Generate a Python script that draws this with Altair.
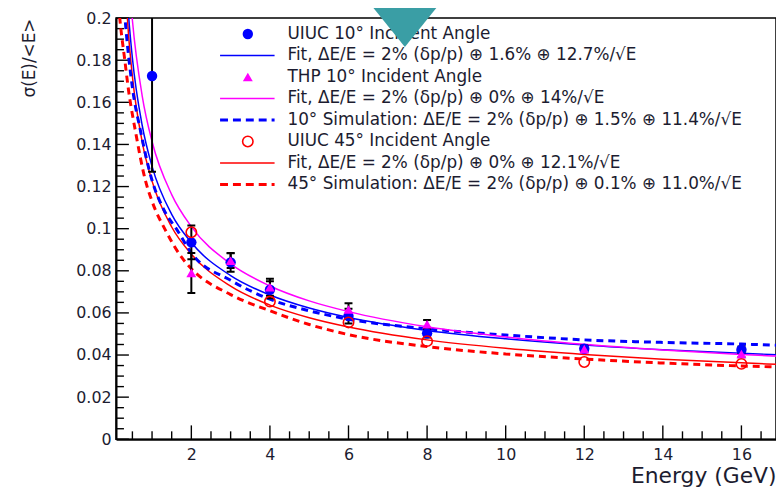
import altair as alt
import pandas as pd

# ---------------- measured data points ----------------
uiuc10_E = [1, 2, 3, 4, 6, 8, 12, 16]
uiuc10_v = [0.1725, 0.0935, 0.0840, 0.0710, 0.0585, 0.0503, 0.0430, 0.0425]
uiuc10_err = [0.0455, 0.0080, 0.0045, 0.0040, 0.0035, 0.0020, 0.0015, 0.0015]

thp10_E = [2, 3, 4, 6, 8, 12, 16]
thp10_v = [0.0790, 0.0848, 0.0722, 0.0616, 0.0546, 0.0428, 0.0405]
thp10_err = [0.0095, 0.0035, 0.0040, 0.0030, 0.0020, 0.0015, 0.0015]

uiuc45_E = [2, 4, 6, 8, 12, 16]
uiuc45_v = [0.0983, 0.0654, 0.0555, 0.0466, 0.0367, 0.0358]

# ---------------- curves ----------------
fit_uiuc10_E = [0.3, 0.4, 0.5, 0.75, 1, 1.5, 2, 3, 4, 5, 6, 8, 10, 12, 14, 16, 17]
fit_uiuc10_v = [0.234, 0.202, 0.181, 0.149, 0.1296, 0.1068, 0.0934, 0.0777, 0.0685,
                0.0623, 0.0578, 0.0517, 0.0477, 0.0447, 0.0425, 0.0408, 0.0401]

fit_thp10_E = [0.45, 0.5, 0.75, 1, 1.5, 2, 3, 4, 5, 6, 8, 10, 12, 14, 16, 17]
fit_thp10_v = [0.210, 0.199, 0.163, 0.1414, 0.1162, 0.101, 0.0833, 0.0728, 0.0657,
               0.0606, 0.0534, 0.0486, 0.0451, 0.0424, 0.0403, 0.0394]

sim10_E = [0.25, 0.33, 0.5, 0.7, 1, 1.3, 1.64, 2, 3, 4, 5, 6, 8, 10, 12, 14, 16, 17]
sim10_v = [0.215, 0.196, 0.167, 0.147, 0.123, 0.109, 0.0993, 0.0885, 0.0755, 0.0665,
           0.0610, 0.0570, 0.0525, 0.0495, 0.0472, 0.0460, 0.0452, 0.0446]

fit_uiuc45_E = [0.33, 0.4, 0.5, 0.75, 1, 1.5, 2, 3, 4, 5, 6, 8, 10, 12, 14, 16, 17]
fit_uiuc45_v = [0.2115, 0.1924, 0.1723, 0.1411, 0.1226, 0.1008, 0.0879, 0.0727, 0.0637,
                0.0577, 0.0533, 0.0472, 0.0432, 0.0403, 0.0380, 0.0363, 0.0355]

sim45_E = [0.12, 0.2, 0.3, 0.4, 0.58, 0.83, 1, 1.34, 1.77, 2, 3, 4, 5, 6, 8, 10, 12, 14, 16, 17]
sim45_v = [0.212, 0.196, 0.181, 0.166, 0.146, 0.123, 0.113, 0.0993, 0.086, 0.081, 0.0687,
           0.0610, 0.0545, 0.0497, 0.0440, 0.0405, 0.0381, 0.0362, 0.0348, 0.0343]

# ---------------- axis ticks ----------------
y_major = [0, 0.02, 0.04, 0.06, 0.08, 0.1, 0.12, 0.14, 0.16, 0.18, 0.2]
y_minor = [round(0.005 * i, 3) for i in range(41) if i % 4 != 0]
x_major = [2, 4, 6, 8, 10, 12, 14, 16]
x_minor = [0.5 * i for i in range(1, 34) if i % 4 != 0]

legend_labels = [
    "UIUC 10° Incident Angle",
    "Fit, ΔE/E = 2% (δp/p) ⊕ 1.6% ⊕ 12.7%/√E",
    "THP 10° Incident Angle",
    "Fit, ΔE/E = 2% (δp/p) ⊕ 0% ⊕ 14%/√E",
    "10° Simulation: ΔE/E = 2% (δp/p) ⊕ 1.5% ⊕ 11.4%/√E",
    "UIUC 45° Incident Angle",
    "Fit, ΔE/E = 2% (δp/p) ⊕ 0% ⊕ 12.1%/√E",
    "45° Simulation: ΔE/E = 2% (δp/p) ⊕ 0.1% ⊕ 11.0%/√E",
]

# ---------------- layout ----------------
W, H = 666, 425
FONT = "DejaVu Sans"
TXT = "#1c1c30"
XS = alt.Scale(domain=[0.083, 16.88], nice=False, zero=False)
YS = alt.Scale(domain=[0, 0.2], nice=False, zero=False)

BLUE, MAG, RED = "#0000ff", "#ff00ff", "#ff0000"

Y_AXIS = alt.Axis(values=y_major, format="~g", ticks=False, grid=False,
                  domainColor="black", domainWidth=2,
                  labelFont=FONT, labelFontSize=16, labelColor=TXT, labelPadding=5,
                  title="σ(E)/<E>", titleFont=FONT, titleFontSize=17,
                  titleFontWeight="normal", titleColor=TXT, titleAngle=270,
                  titleX=-87, titleY=0, titleAlign="right", titleBaseline="middle")
X_AXIS = alt.Axis(values=x_major, ticks=False, grid=False,
                  domainColor="black", domainWidth=2,
                  labelFont=FONT, labelFontSize=16, labelColor=TXT, labelPadding=7,
                  title="Energy (GeV)", titleFont=FONT, titleFontSize=22,
                  titleFontWeight="normal", titleColor=TXT,
                  titleX=W, titleY=44, titleAlign="right", titleBaseline="alphabetic")


def xq(field="E"):
    return alt.X(f"{field}:Q", scale=XS, axis=X_AXIS)


def yq(field="v"):
    return alt.Y(f"{field}:Q", scale=YS, axis=Y_AXIS)


layers = []

# inward ticks
layers.append(alt.Chart(pd.DataFrame({"v": y_major})).mark_rule(color="black", strokeWidth=1.4)
              .encode(y=yq("v"), x=alt.value(0), x2=alt.value(13)))
layers.append(alt.Chart(pd.DataFrame({"v": y_minor})).mark_rule(color="black", strokeWidth=1.4)
              .encode(y=yq("v"), x=alt.value(0), x2=alt.value(8)))
layers.append(alt.Chart(pd.DataFrame({"E": x_major})).mark_rule(color="black", strokeWidth=1.4)
              .encode(x=xq("E"), y=alt.value(H), y2=alt.value(H - 14)))
layers.append(alt.Chart(pd.DataFrame({"E": x_minor})).mark_rule(color="black", strokeWidth=1.4)
              .encode(x=xq("E"), y=alt.value(H), y2=alt.value(H - 8)))


def curve(E, v, color, width, dash=None):
    kw = dict(color=color, strokeWidth=width, clip=True, interpolate="monotone")
    if dash:
        kw["strokeDash"] = dash
    return alt.Chart(pd.DataFrame({"E": E, "v": v})).mark_line(**kw).encode(x=xq(), y=yq())


layers.append(curve(sim45_E, sim45_v, RED, 3, [7, 5]))
layers.append(curve(fit_uiuc45_E, fit_uiuc45_v, RED, 1.5))
layers.append(curve(sim10_E, sim10_v, BLUE, 3, [7, 5]))
layers.append(curve(fit_uiuc10_E, fit_uiuc10_v, BLUE, 1.5))
layers.append(curve(fit_thp10_E, fit_thp10_v, MAG, 1.5))


def errbars(E, v, err):
    df = pd.DataFrame({"E": E, "v": v, "err": err})
    df["lo"] = df["v"] - df["err"]
    df["hi"] = df["v"] + df["err"]
    bar = alt.Chart(df).mark_rule(color="black", strokeWidth=2, clip=True).encode(
        x=xq(), y=yq("lo"), y2="hi:Q")
    lo = alt.Chart(df).mark_tick(color="black", orient="horizontal", size=8, thickness=2,
                                 clip=True, opacity=1).encode(x=xq(), y=yq("lo"))
    hi = alt.Chart(df).mark_tick(color="black", orient="horizontal", size=8, thickness=2,
                                 clip=True, opacity=1).encode(x=xq(), y=yq("hi"))
    return [bar, lo, hi]


layers += errbars(uiuc10_E, uiuc10_v, uiuc10_err)
layers += errbars(thp10_E, thp10_v, thp10_err)

layers.append(alt.Chart(pd.DataFrame({"E": uiuc10_E, "v": uiuc10_v}))
              .mark_point(shape="circle", filled=True, size=110, color=BLUE, opacity=1)
              .encode(x=xq(), y=yq()))
layers.append(alt.Chart(pd.DataFrame({"E": uiuc45_E, "v": uiuc45_v}))
              .mark_point(shape="circle", filled=False, size=110, color=RED, strokeWidth=1.6, opacity=1)
              .encode(x=xq(), y=yq()))
layers.append(alt.Chart(pd.DataFrame({"E": thp10_E, "v": thp10_v}))
              .mark_point(shape="triangle-up", filled=True, size=100, color=MAG, opacity=1)
              .encode(x=xq(), y=yq()))

# ---------------- legend ----------------
LY = [16 + 21.7 * i for i in range(len(legend_labels))]
leg_df = pd.DataFrame({"label": legend_labels, "py": LY})
layers.append(alt.Chart(leg_df).mark_text(align="left", baseline="middle", font=FONT,
                                          fontSize=17, color=TXT)
              .encode(x=alt.value(173), y=alt.Y("py:Q", scale=None), text="label:N"))

one = pd.DataFrame({"a": [0]})
layers.append(alt.Chart(one).mark_point(shape="circle", filled=True, size=110, color=BLUE, opacity=1)
              .encode(x=alt.value(133), y=alt.value(LY[0])))
layers.append(alt.Chart(one).mark_point(shape="triangle-up", filled=True, size=100, color=MAG, opacity=1)
              .encode(x=alt.value(133), y=alt.value(LY[2])))
layers.append(alt.Chart(one).mark_point(shape="circle", filled=False, size=110, color=RED,
                                        strokeWidth=1.6, opacity=1)
              .encode(x=alt.value(133), y=alt.value(LY[5])))
for row, col, width, dash in [(1, BLUE, 1.5, None), (3, MAG, 1.5, None), (4, BLUE, 3, [8, 5]),
                              (6, RED, 1.5, None), (7, RED, 3, [8, 5])]:
    kw = dict(color=col, strokeWidth=width)
    if dash:
        kw["strokeDash"] = dash
    layers.append(alt.Chart(one).mark_rule(**kw)
                  .encode(x=alt.value(105), x2=alt.value(160), y=alt.value(LY[row])))

# teal pointer overlay
layers.append(alt.Chart(one).mark_point(shape="M-1,-0.62L1,-0.62L0,0.62Z", filled=True,
                                        size=5329, color="#3a9ea5", opacity=1, strokeWidth=0)
              .encode(x=alt.value(291.5), y=alt.value(6.5)))

chart = (alt.layer(*layers)
         .properties(width=W, height=H, autosize="none",
                     padding={"left": 109, "top": 8, "right": 0, "bottom": 48},
                     background="white")
         .configure_view(stroke="black", strokeWidth=1.5))

chart.save("out.html", embed_options={"renderer": "svg", "actions": False})
